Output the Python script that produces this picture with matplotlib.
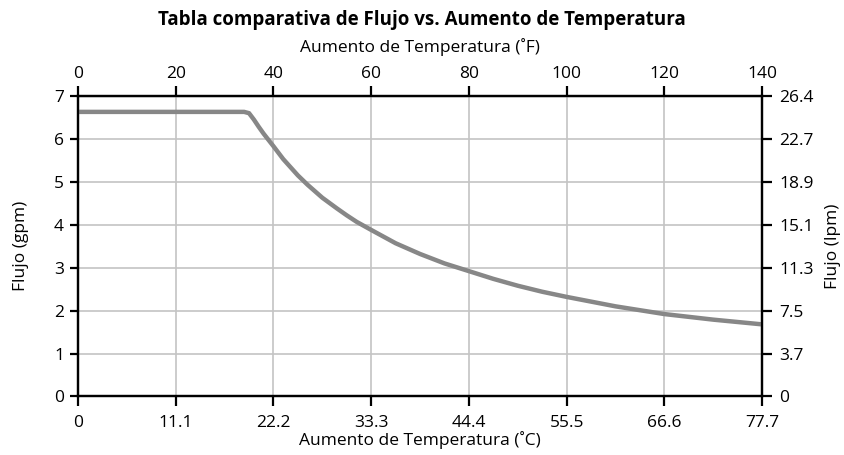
import matplotlib
matplotlib.use("Agg")
import matplotlib.pyplot as plt

plt.rcParams['font.family'] = ['Open Sans', 'DejaVu Sans']

# temperature rise (F) and flow (gpm)
temp_f = [0, 10, 20, 30, 34, 35, 36, 37, 38, 40, 42, 45, 47, 50, 53, 55, 57, 60, 65, 70,
          75, 80, 85, 90, 95, 100, 110, 120, 130, 140]
flow_gpm = [6.63, 6.63, 6.63, 6.63, 6.63, 6.6, 6.45, 6.28, 6.12, 5.83, 5.53, 5.15, 4.93,
            4.63, 4.38, 4.22, 4.07, 3.88, 3.57, 3.32, 3.1, 2.92, 2.74, 2.58, 2.44, 2.32,
            2.1, 1.92, 1.79, 1.68]

f_ticks = [0, 20, 40, 60, 80, 100, 120, 140]
c_labels = ['0', '11.1', '22.2', '33.3', '44.4', '55.5', '66.6', '77.7']
gpm_ticks = [0, 1, 2, 3, 4, 5, 6, 7]
lpm_labels = ['0', '3.7', '7.5', '11.3', '15.1', '18.9', '22.7', '26.4']

fs = 12.5

fig = plt.figure(figsize=(8.44, 4.55), dpi=100)
ax = fig.add_axes([0.0924, 0.1286, 0.8106, 0.6604])

ax.plot(temp_f, flow_gpm, color='#878787', lw=3.2, solid_capstyle='butt',
        solid_joinstyle='round', zorder=3)

ax.set_xlim(0, 140)
ax.set_ylim(0, 7)
ax.set_xticks(f_ticks)
ax.set_xticklabels(c_labels)
ax.set_yticks(gpm_ticks)
ax.grid(color='#c4c4c4', lw=1.2)
ax.set_axisbelow(True)

for s in ax.spines.values():
    s.set_linewidth(1.6)
ax.tick_params(axis='x', direction='out', length=7, width=1.6, labelsize=fs, pad=6)
ax.tick_params(axis='y', direction='out', length=6, width=1.6, labelsize=fs, pad=4)

ax.set_xlabel('Aumento de Temperatura (˚C)', fontsize=fs, labelpad=0)
ax.set_ylabel('Flujo (gpm)', fontsize=fs, labelpad=18)

top = ax.secondary_xaxis('top')
top.set_xticks(f_ticks)
top.tick_params(direction='out', length=7, width=1.6, labelsize=fs, pad=3)
top.set_xlabel('Aumento de Temperatura (˚F)', fontsize=fs, labelpad=10)

right = ax.twinx()
right.set_ylim(0, 7)
right.set_yticks(gpm_ticks)
right.set_yticklabels(lpm_labels)
right.tick_params(direction='out', length=7.5, width=1.6, labelsize=fs, pad=5)
right.set_ylabel('Flujo (lpm)', fontsize=fs, labelpad=8)
for s in right.spines.values():
    s.set_linewidth(1.6)

fig.suptitle('Tabla comparativa de Flujo vs. Aumento de Temperatura',
             fontsize=13.5, fontweight='bold', y=0.978)

fig.savefig('out.png', dpi=100)
